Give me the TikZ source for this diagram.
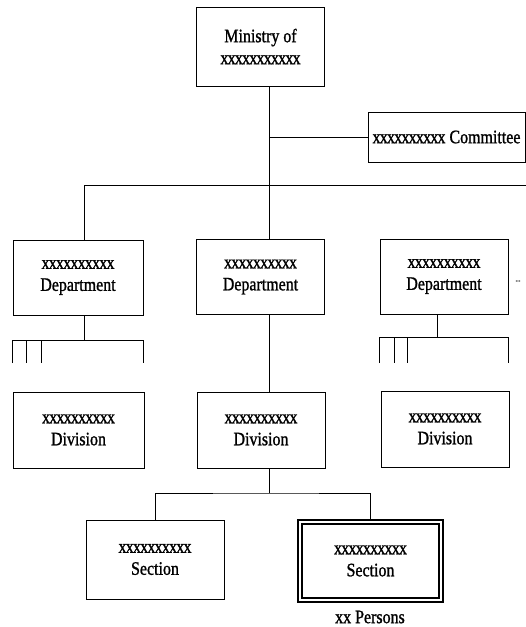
\documentclass[tikz,border=0pt]{standalone}
\usepackage{fontspec}
\setmainfont{Liberation Serif}[FakeStretch=0.84, FakeBold=1.2]
\newcommand{\xs}{{\addfontfeature{LetterSpace=-4}xxxxxxxxxx}}

\tikzset{
  unit/.style={draw, line width=1pt, align=center, inner sep=0pt,
    minimum width=128pt, minimum height=75pt,
    font=\fontsize{19}{22}\selectfont},
  keyunit/.style={unit, line width=1.7pt, double, double distance=2.4pt,
    minimum width=141pt, minimum height=78pt},
  link/.style={line width=1pt}
}

\begin{document}
\begin{tikzpicture}[x=1pt,y=-1pt]
\useasboundingbox (0,0) rectangle (526,627);
\node [unit, minimum height=79pt] (ministry) at (260.5,46.5) {Ministry of\\{\addfontfeature{LetterSpace=-4}xxxxxxxxxxx}};
\node [unit, minimum width=157pt, minimum height=50pt] (committee) at (446.5,137) {\xs{} Committee};
\node [unit, minimum width=130pt] (dept1) at (78,277.5) {\xs\\Department};
\node [unit] (dept2) at (260.5,277) {\xs\\Department};
\node [unit] (dept3) at (444,276.5) {\xs\\Department};
\node [font=\footnotesize] (more) at (518,281) {...};
\node [unit, minimum width=131pt, minimum height=76pt] (div1) at (78.5,430) {\xs\\Division};
\node [unit, minimum height=76pt] (div2) at (261,430) {\xs\\Division};
\node [unit, minimum height=76pt] (div3) at (445,429) {\xs\\Division};
\node [unit, minimum width=138pt, minimum height=79pt] (sec1) at (155,559.5) {\xs\\Section};
\node [keyunit] (sec2) at (370.5,561) {\xs\\Section};
\node [font=\fontsize{19}{22}\selectfont] (staff) at (370,617) {xx Persons};

\coordinate (spine) at (269,0);
\coordinate (bar) at (526,185);
\coordinate (t1) at (84,340);
\coordinate (t3) at (437,337);
\coordinate (split) at (269,493);

\draw [link] (ministry.south -| spine) -- (dept2.north -| spine);
\draw [link] (spine |- committee.west) -- (committee.west);
\draw [link] (dept1.north -| t1) |- (bar);
\draw [link] (dept2.south -| spine) -- (div2.north -| spine);
\draw [link] (div2.south -| spine) -- (split);
\draw [link] (sec1.north) |- (split) -| (sec2.north);

% open branches below the side departments
\draw [link] (dept1.south -| t1) -- (t1);
\draw [link] (dept1.west |- t1) ++(0,23) -- ++(0,-23) -- (dept1.east |- t1) -- ++(0,23);
\foreach \d in {14,29}
  \draw [link] ([xshift=\d pt]dept1.west |- t1) -- ++(0,23);
\draw [link] (dept3.south -| t3) -- (t3);
\draw [link] (dept3.west |- t3) ++(0,26) -- ++(0,-26) -- (dept3.east |- t3) -- ++(0,26);
\foreach \d in {15,28}
  \draw [link] ([xshift=\d pt]dept3.west |- t3) -- ++(0,26);
\end{tikzpicture}
\end{document}
